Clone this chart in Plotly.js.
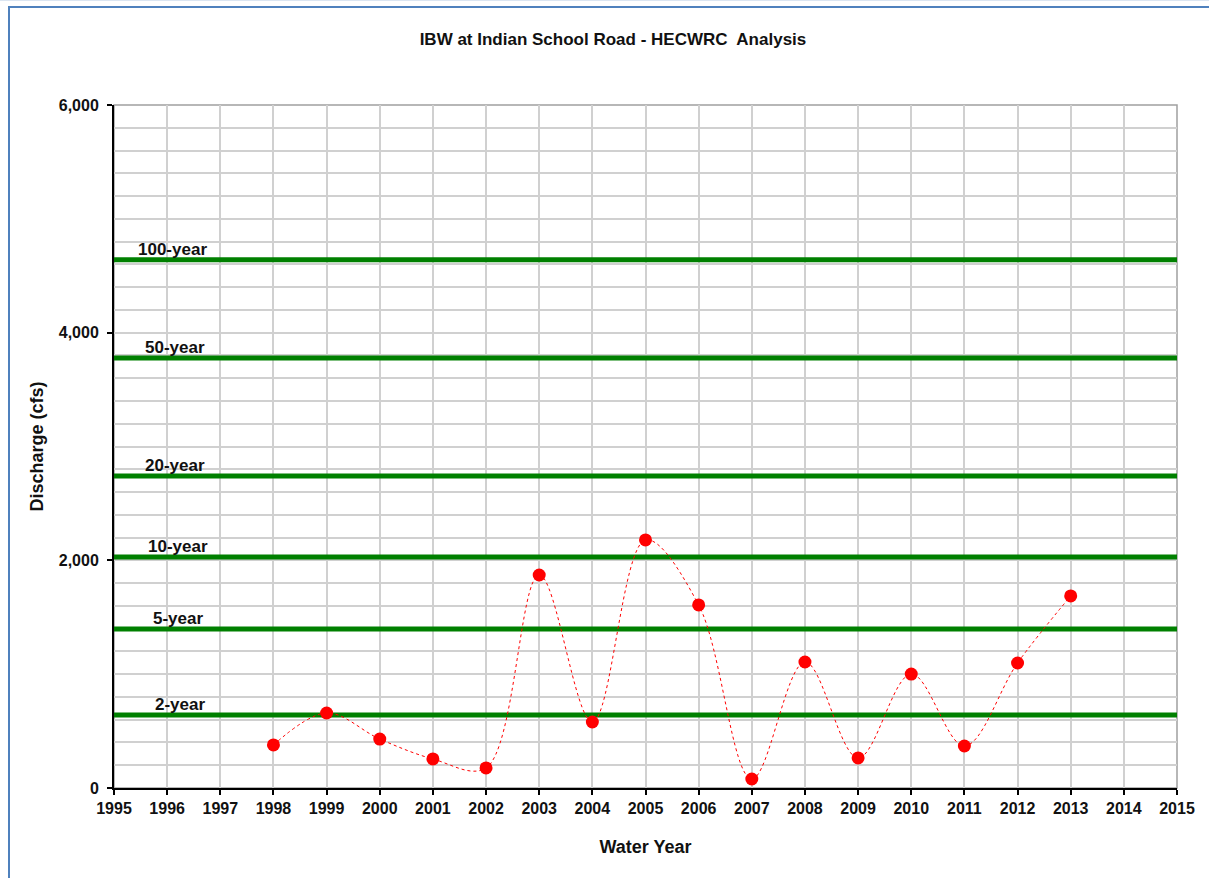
<!DOCTYPE html>
<html>
<head>
<meta charset="utf-8">
<script src="https://cdn.plot.ly/plotly-3.0.1.min.js"></script>
<style>
  body { margin: 0; background: #fff; }
  #frame { position: absolute; left: 8px; top: 6px; width: 1220px; height: 900px;
           border-top: 2px solid #4f81bd; border-left: 2px solid #4f81bd; pointer-events: none; }
  #topline { position: absolute; left: 0; top: 0; width: 1209px; height: 1px; background: #dbe5f1; }
  #chart { width: 1209px; height: 878px; }
</style>
</head>
<body>
<div id="topline"></div>
<div id="chart"></div>
<div id="frame"></div>
<script>
var years = [1998,1999,2000,2001,2002,2003,2004,2005,2006,2007,2008,2009,2010,2011,2012,2013];
var discharge = [378,659,430,255,176,1871,580,2179,1608,79,1107,264,1001,369,1098,1687];

var periods = ['100-year','50-year','20-year','10-year','5-year','2-year'];
var periodFlows = [4640,3777,2741,2029,1397,641];
var labelX = [1996.1,1996.15,1996.15,1996.2,1996.2,1996.25];

var xRange = [1995, 2015];
var yRange = [0, 6000];

var f = 'Liberation Sans, Arial, sans-serif';

var data = [];
for (var i = 0; i < periods.length; i++) {
  data.push({
    x: xRange,
    y: [periodFlows[i], periodFlows[i]],
    mode: 'lines',
    line: {color: '#008000', width: 5},
    hoverinfo: 'skip',
    showlegend: false
  });
}
data.push({
  x: years,
  y: discharge,
  mode: 'lines+markers',
  line: {color: '#ff0000', width: 1, dash: 'dot', shape: 'spline', smoothing: 1},
  marker: {color: '#ff0000', size: 13},
  showlegend: false
});

var annotations = [];
for (var j = 0; j < periods.length; j++) {
  annotations.push({
    x: labelX[j], y: periodFlows[j], xref: 'x', yref: 'y',
    text: periods[j], showarrow: false, xanchor: 'center', yanchor: 'bottom', yshift: -1,
    font: {family: f, size: 17, color: '#111', weight: 'bold'}
  });
}

var layout = {
  width: 1209, height: 878,
  margin: {l: 114, r: 32, t: 105, b: 90},
  paper_bgcolor: 'rgba(0,0,0,0)',
  plot_bgcolor: '#fff',
  title: {text: 'IBW at Indian School Road - HECWRC  Analysis', x: 0.507, y: 0.955, xanchor: 'center', yanchor: 'middle',
          font: {family: f, size: 17, color: '#111', weight: 'bold'}},
  xaxis: {
    range: xRange, dtick: 1, tick0: 1995,
    showgrid: true, gridcolor: '#d0d0d0', gridwidth: 1.5,
    showline: true, linecolor: '#000', linewidth: 2,
    ticks: 'outside', ticklen: 5, tickcolor: '#000', tickwidth: 2,
    tickfont: {family: f, size: 16, color: '#111', weight: 'bold'},
    zeroline: false,
    title: {text: 'Water Year', standoff: 24, font: {family: f, size: 18, color: '#111', weight: 'bold'}}
  },
  yaxis: {
    range: yRange, dtick: 2000, tick0: 0, tickformat: ',d',
    showgrid: true, gridcolor: '#d0d0d0', gridwidth: 1.5,
    minor: {dtick: 200, showgrid: true, gridcolor: '#d0d0d0', gridwidth: 1.5},
    showline: true, linecolor: '#000', linewidth: 2,
    ticks: 'outside', ticklen: 5, tickcolor: '#000', tickwidth: 2,
    ticklabelstandoff: 5,
    tickfont: {family: f, size: 16, color: '#111', weight: 'bold'},
    zeroline: false,
    title: {text: 'Discharge (cfs)', standoff: 10, font: {family: f, size: 18, color: '#111', weight: 'bold'}}
  },
  shapes: [{type: 'rect', xref: 'paper', yref: 'paper', x0: 0, x1: 1, y0: 0, y1: 1,
            line: {color: '#a0a0a0', width: 1.5}, layer: 'below'}],
  annotations: annotations
};

Plotly.newPlot('chart', data, layout, {displayModeBar: false});
</script>
</body>
</html>
